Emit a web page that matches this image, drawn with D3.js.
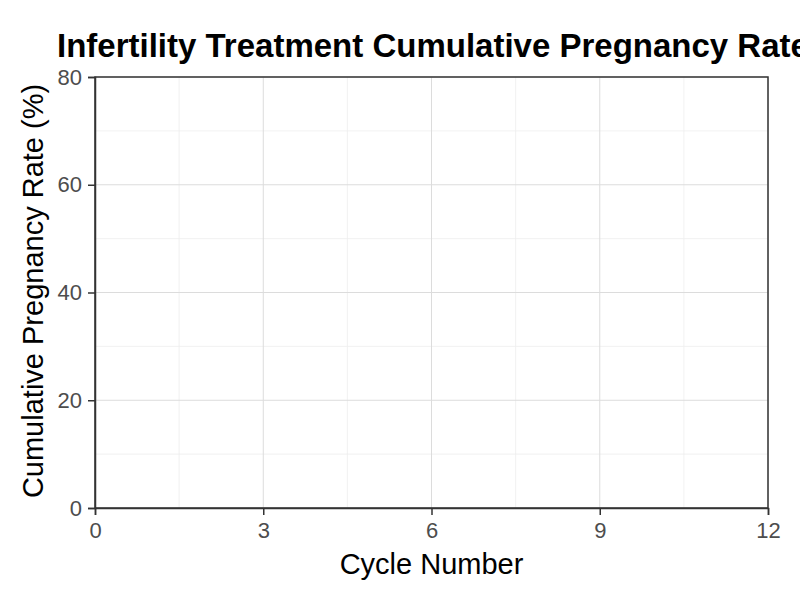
<!DOCTYPE html>
<html><head><meta charset="utf-8">
<script src="https://cdn.jsdelivr.net/npm/d3@7"></script>
<style>body{margin:0;background:#fff}svg{display:block;font-family:"Liberation Sans",Arial,sans-serif}</style>
</head><body><svg id="c" width="800" height="600"></svg>
<script>
const title = "Infertility Treatment Cumulative Pregnancy Rate";
const xLabel = "Cycle Number";
const yLabel = "Cumulative Pregnancy Rate (%)";
const xTicks = [0, 3, 6, 9, 12];
const xMinor = [1.5, 4.5, 7.5, 10.5];
const yTicks = [0, 20, 40, 60, 80];
const yMinor = [10, 30, 50, 70];
// No data series are drawn in the reference
const cycles = [];
const rates = [];

const svg = d3.select("#c");
const m = {l:95, r:768, t:77, b:508};
const x = d3.scaleLinear().domain([0,12]).range([m.l, m.r]);
const y = d3.scaleLinear().domain([0,80]).range([m.b, m.t]);

svg.append("rect").attr("width",800).attr("height",600).attr("fill","#fff");
const g = svg.append("g");
g.selectAll(".xm").data(xMinor).join("line").attr("x1",d=>x(d)).attr("x2",d=>x(d)).attr("y1",m.t).attr("y2",m.b).attr("stroke","#ededed").attr("stroke-width",0.8);
g.selectAll(".ym").data(yMinor).join("line").attr("y1",d=>y(d)).attr("y2",d=>y(d)).attr("x1",m.l).attr("x2",m.r).attr("stroke","#ededed").attr("stroke-width",0.8);
g.selectAll(".xM").data(xTicks).join("line").attr("x1",d=>x(d)).attr("x2",d=>x(d)).attr("y1",m.t).attr("y2",m.b).attr("stroke","#dcdcdc").attr("stroke-width",1);
g.selectAll(".yM").data(yTicks).join("line").attr("y1",d=>y(d)).attr("y2",d=>y(d)).attr("x1",m.l).attr("x2",m.r).attr("stroke","#dcdcdc").attr("stroke-width",1);

const line = d3.line().x((d,i)=>x(cycles[i])).y(d=>y(d));
if (rates.length) svg.append("path").datum(rates).attr("d",line).attr("fill","none").attr("stroke","#000");

svg.append("rect").attr("x",m.l).attr("y",m.t).attr("width",m.r-m.l).attr("height",m.b-m.t).attr("fill","none").attr("stroke","#333").attr("stroke-width",1.5);

const xa = svg.append("g").attr("transform",`translate(0,${m.b})`).call(d3.axisBottom(x).tickValues(xTicks).tickSize(7).tickPadding(7).tickFormat(d3.format("d")));
const ya = svg.append("g").attr("transform",`translate(${m.l},0)`).call(d3.axisLeft(y).tickValues(yTicks).tickSize(7).tickPadding(6).tickFormat(d3.format("d")));
[xa,ya].forEach(a=>{
  a.attr("font-size",null).attr("font-family",null);
  a.select(".domain").attr("stroke","#333").attr("stroke-width",1.5);
  a.selectAll(".tick line").attr("stroke","#333").attr("stroke-width",1.5);
  a.selectAll(".tick text").attr("fill","#4d4d4d").style("font-size","22px").style("font-family","Liberation Sans, Arial, sans-serif");
});

svg.append("text").attr("x",57).attr("y",57).style("font-size","33px").attr("font-weight","bold").attr("fill","#000").text(title);
svg.append("text").attr("x",(m.l+m.r)/2).attr("y",574).attr("text-anchor","middle").style("font-size","29px").attr("fill","#000").text(xLabel);
svg.append("text").attr("transform",`translate(43,291) rotate(-90)`).attr("text-anchor","middle").style("font-size","29px").attr("fill","#000").text(yLabel);
</script></body></html>
